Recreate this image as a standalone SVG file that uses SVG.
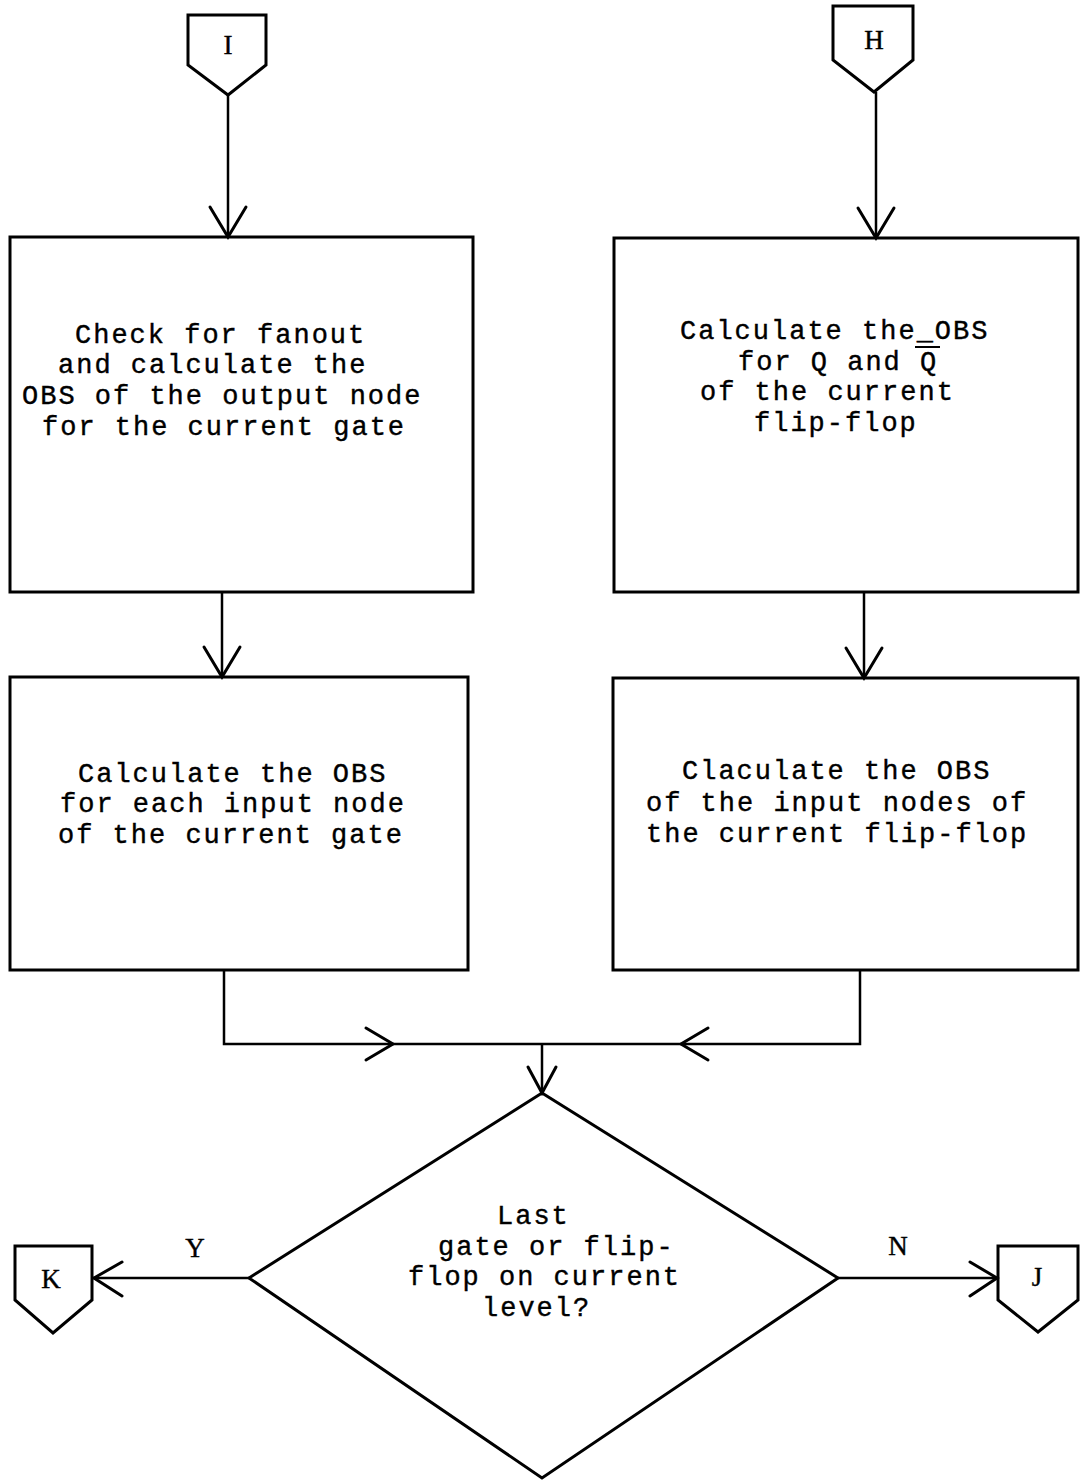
<svg xmlns="http://www.w3.org/2000/svg" width="1081" height="1483" viewBox="0 0 1081 1483">
  <style>
    .shape { fill: none; stroke: #000; stroke-width: 3; stroke-linejoin: miter; }
    .wire { fill: none; stroke: #000; stroke-width: 2.5; }
    .head { fill: none; stroke: #000; stroke-width: 3; stroke-linecap: round; }
    text { font-family: "Liberation Mono", "Courier New", monospace; font-size: 27px; letter-spacing: 2px; fill: #000; stroke: #000; stroke-width: 0.4px; }
    .lbl { font-family: "Liberation Serif", "Times New Roman", serif; font-size: 27px; letter-spacing: 0; }
  </style>
  <rect width="1081" height="1483" fill="#fff"/>

  <!-- off-page connector I -->
  <g id="conn-I">
    <path class="shape" d="M188,15 L266,15 L266,65 L228,95 L188,65 Z"/>
    <text class="lbl" x="228" y="54" text-anchor="middle">I</text>
  </g>

  <!-- off-page connector H -->
  <g id="conn-H">
    <path class="shape" d="M833,6 L913,6 L913,60 L874,92 L833,60 Z"/>
    <text class="lbl" x="874" y="49" text-anchor="middle">H</text>
  </g>

  <!-- gate output step -->
  <g id="box-gate-output">
    <rect class="shape" x="10" y="237" width="463" height="355"/>
    <text x="75" y="343">Check for fanout</text>
    <text x="58" y="373">and calculate the</text>
    <text x="22" y="404">OBS of the output node</text>
    <text x="42" y="435">for the current gate</text>
  </g>

  <!-- flip-flop output step -->
  <g id="box-ff-output">
    <rect class="shape" x="614" y="238" width="464" height="354"/>
    <text x="680" y="339">Calculate the_OBS</text>
    <text x="738" y="370">for Q and Q</text>
    <line x1="915" y1="347" x2="940" y2="347" stroke="#000" stroke-width="2"/>
    <text x="700" y="400">of the current</text>
    <text x="754" y="431">flip-flop</text>
  </g>

  <!-- gate input step -->
  <g id="box-gate-input">
    <rect class="shape" x="10" y="677" width="458" height="293"/>
    <text x="78" y="782">Calculate the OBS</text>
    <text x="60" y="812">for each input node</text>
    <text x="58" y="843">of the current gate</text>
  </g>

  <!-- flip-flop input step -->
  <g id="box-ff-input">
    <rect class="shape" x="613" y="678" width="465" height="292"/>
    <text x="682" y="779">Claculate the OBS</text>
    <text x="646" y="811">of the input nodes of</text>
    <text x="646" y="842">the current flip-flop</text>
  </g>

  <!-- decision -->
  <g id="decision-last">
    <path class="shape" d="M542,1093 L838,1278 L542,1478 L249,1278 Z"/>
    <text x="497" y="1224">Last</text>
    <text x="438" y="1255">gate or flip-</text>
    <text x="408" y="1285">flop on current</text>
    <text x="482" y="1316">level?</text>
  </g>

  <!-- off-page connector K -->
  <g id="conn-K">
    <path class="shape" d="M15,1246 L92,1246 L92,1300 L53,1333 L15,1300 Z"/>
    <text class="lbl" x="51" y="1288" text-anchor="middle">K</text>
  </g>

  <!-- off-page connector J -->
  <g id="conn-J">
    <path class="shape" d="M998,1246 L1078,1246 L1078,1300 L1038,1332 L998,1300 Z"/>
    <text class="lbl" x="1037" y="1286" text-anchor="middle">J</text>
  </g>

  <!-- connectors -->
  <g id="connectors">
    <line class="wire" x1="228" y1="95" x2="228" y2="237"/>
    <path class="head" d="M210,207 L228,237 L246,207"/>

    <line class="wire" x1="876" y1="92" x2="876" y2="238"/>
    <path class="head" d="M858,208 L876,238 L894,208"/>

    <line class="wire" x1="222" y1="592" x2="222" y2="677"/>
    <path class="head" d="M204,647 L222,677 L240,647"/>

    <line class="wire" x1="864" y1="592" x2="864" y2="678"/>
    <path class="head" d="M846,648 L864,678 L882,648"/>

    <path class="wire" d="M224,970 L224,1044 L860,1044 L860,970"/>
    <path class="head" d="M366,1028 L393,1044 L366,1060"/>
    <path class="head" d="M708,1028 L681,1044 L708,1060"/>

    <line class="wire" x1="542" y1="1044" x2="542" y2="1093"/>
    <path class="head" d="M528,1067 L542,1093 L556,1067"/>

    <line class="wire" x1="249" y1="1278" x2="93" y2="1278"/>
    <path class="head" d="M122,1262 L94,1278 L122,1296"/>
    <text class="lbl" x="195" y="1257" text-anchor="middle">Y</text>

    <line class="wire" x1="838" y1="1278" x2="998" y2="1278"/>
    <path class="head" d="M970,1262 L997,1278 L970,1296"/>
    <text class="lbl" x="898" y="1255" text-anchor="middle">N</text>
  </g>
</svg>
